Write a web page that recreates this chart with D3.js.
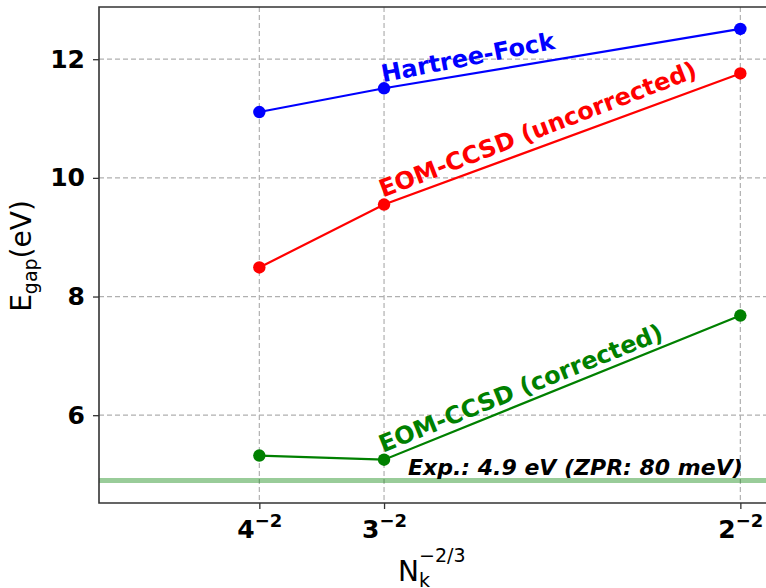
<!DOCTYPE html>
<html>
<head>
<meta charset="utf-8">
<script src="https://cdn.jsdelivr.net/npm/d3@7"></script>
<style>
  body { margin: 0; background: #fff; }
  svg { display: block; font-family: "DejaVu Sans", sans-serif; }
</style>
</head>
<body>
<svg id="chart" width="766" height="588"></svg>
<script>
// k-mesh positions: N_k^(-2/3) for 4x4x4, 3x3x3, 2x2x2
var kBases = [4, 3, 2];
var kValues = [1 / 16, 1 / 9, 1 / 4];

var hartreeFock = [11.11, 11.51, 12.51];
var eomUncorrected = [8.49, 9.55, 11.76];
var eomCorrected = [5.32, 5.25, 7.68];
var expGap = 4.9;

var yTicks = [6, 8, 10, 12];

var series = [
    { name: 'Hartree-Fock', values: hartreeFock, color: '#0000ff', angle: -11, dy: -6 },
    { name: 'EOM-CCSD (uncorrected)', values: eomUncorrected, color: '#ff0000', angle: -21, dy: -7 },
    { name: 'EOM-CCSD (corrected)', values: eomCorrected, color: '#008000', angle: -22, dy: -7 }
];

(function() {
    var svg = d3.select('#chart'),
        pLeft = 99, pTop = 7, pRight = 766, pBottom = 503;

    var x = d3.scaleLinear().domain([0, 0.26]).range([pLeft, pRight]);
    var y = d3.scaleLinear().domain([4.52, 12.88]).range([pBottom, pTop]);

    // grid
    var grid = svg.append('g').attr('class', 'grid');
    grid.selectAll('line.gx').data(kValues).enter().append('line')
        .attr('x1', function(d) { return x(d); }).attr('x2', function(d) { return x(d); })
        .attr('y1', pTop).attr('y2', pBottom);
    grid.selectAll('line.gy').data(yTicks).enter().append('line')
        .attr('x1', pLeft).attr('x2', pRight)
        .attr('y1', function(d) { return y(d); }).attr('y2', function(d) { return y(d); });
    grid.selectAll('line')
        .attr('stroke', '#b0b0b0').attr('stroke-width', 1.2).attr('stroke-dasharray', '5,3');

    // experimental gap
    svg.append('line')
        .attr('x1', pLeft).attr('x2', pRight)
        .attr('y1', y(expGap)).attr('y2', y(expGap))
        .attr('stroke', '#008000').attr('stroke-opacity', 0.4).attr('stroke-width', 5);

    // series
    var line = d3.line()
        .x(function(d, i) { return x(kValues[i]); })
        .y(function(d) { return y(d); });

    series.forEach(function(s) {
        svg.append('path')
            .datum(s.values)
            .attr('d', line)
            .attr('fill', 'none')
            .attr('stroke', s.color)
            .attr('stroke-width', 2.2);
        svg.selectAll(null).data(s.values).enter().append('circle')
            .attr('cx', function(d, i) { return x(kValues[i]); })
            .attr('cy', function(d) { return y(d); })
            .attr('r', 6.2)
            .attr('fill', s.color);
        // label along the line, anchored at the middle point
        var lx = x(kValues[1]) - 1, ly = y(s.values[1]) + s.dy;
        svg.append('text')
            .attr('transform', 'translate(' + lx + ',' + ly + ') rotate(' + s.angle + ')')
            .attr('font-size', 24).attr('font-weight', 'bold')
            .attr('fill', s.color)
            .text(s.name);
    });

    svg.append('text')
        .attr('x', 408).attr('y', y(expGap) - 5)
        .attr('font-size', 22).attr('font-weight', 'bold').attr('font-style', 'italic')
        .attr('fill', '#000')
        .text('Exp.: 4.9 eV (ZPR: 80 meV)');

    // axes
    var yAxis = d3.axisLeft(y).tickValues(yTicks).tickSize(6).tickPadding(8).tickFormat(d3.format('d'));
    var gy = svg.append('g').attr('transform', 'translate(' + pLeft + ',0)').call(yAxis);
    gy.select('.domain').remove();
    gy.selectAll('.tick text').attr('font-size', 25).attr('font-weight', 'bold')
        .attr('font-family', 'DejaVu Sans').attr('fill', '#000');

    var xAxis = d3.axisBottom(x).tickValues(kValues).tickSize(6).tickPadding(6).tickFormat('');
    var gx = svg.append('g').attr('transform', 'translate(0,' + pBottom + ')').call(xAxis);
    gx.select('.domain').remove();
    gx.selectAll('.tick').each(function(d, i) {
        var t = d3.select(this).append('text')
            .attr('y', 35).attr('text-anchor', 'middle')
            .attr('font-size', 25).attr('font-weight', 'bold')
            .attr('font-family', 'DejaVu Sans').attr('fill', '#000');
        t.append('tspan').text(kBases[i]);
        t.append('tspan').attr('dy', -11).attr('font-size', 18).text('\u22122');
    });
    svg.selectAll('.tick line').attr('stroke', '#333').attr('stroke-width', 1.3);

    // spines
    svg.append('path')
        .attr('d', 'M' + pRight + ',' + pTop + 'H' + pLeft + 'V' + pBottom + 'H' + pRight)
        .attr('fill', 'none').attr('stroke', '#333').attr('stroke-width', 1.6);

    // axis titles: N_k^(-2/3) with sub/superscript stacked
    var xt = svg.append('text')
        .attr('x', 398).attr('y', 581)
        .attr('font-size', 28).attr('fill', '#000');
    xt.append('tspan').text('N');
    xt.append('tspan').attr('font-size', 19).attr('dy', 6).text('k');
    xt.append('tspan').attr('font-size', 19).attr('dx', -11).attr('dy', -25).text('\u22122/3');

    var yt = svg.append('text')
        .attr('transform', 'translate(31,256) rotate(-90)').attr('text-anchor', 'middle')
        .attr('font-size', 28).attr('fill', '#000');
    yt.append('tspan').text('E');
    yt.append('tspan').attr('font-size', 19).attr('dy', 6).text('gap');
    yt.append('tspan').attr('dy', -6).text('(eV)');
})();
</script>
</body>
</html>
